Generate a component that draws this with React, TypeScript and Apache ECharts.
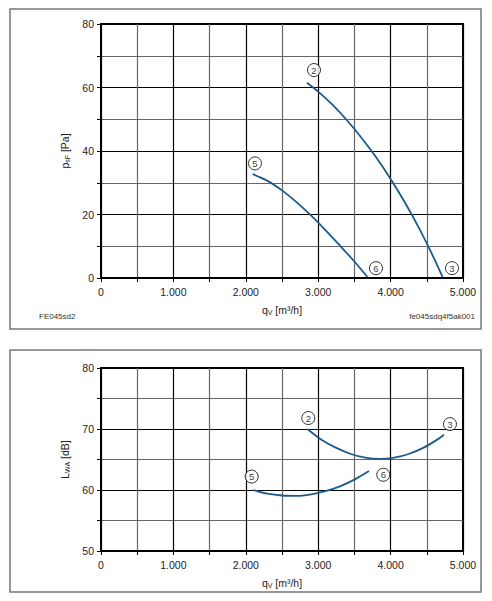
import React, { useEffect, useRef } from "react";
import * as echarts from "echarts";

// Air flow axis (m³/h)
const flowTicks = [0, 1000, 2000, 3000, 4000, 5000];

// Static pressure curves p_sF [Pa] over q_V [m³/h]
const pressureCurveA = [
  [2845, 61.5], [3000, 58.7], [3200, 54.5], [3400, 49.6], [3600, 44.1],
  [3800, 38.0], [4000, 31.2], [4200, 23.7], [4400, 15.4], [4600, 6.2],
  [4718, 0.3],
];
const pressureCurveB = [
  [2095, 32.7], [2300, 30.6], [2500, 27.6], [2700, 23.9], [2900, 19.7],
  [3100, 15.1], [3300, 10.2], [3500, 5.2], [3680, 0.3],
];
// Operating point markers on the pressure chart
const pressureMarkers = [
  { id: "2", q: 2942, v: 65.5 },
  { id: "3", q: 4848, v: 3.1 },
  { id: "5", q: 2127, v: 36.1 },
  { id: "6", q: 3798, v: 3.1 },
];

// Sound power curves L_WA [dB] over q_V [m³/h]
const soundCurveA = [
  [2850, 70], [3050, 68.2], [3250, 66.9], [3450, 65.9], [3650, 65.3],
  [3850, 65.1], [4050, 65.3], [4250, 65.9], [4450, 66.9], [4650, 68.3],
  [4738, 69.05],
];
const soundCurveB = [
  [2104, 60], [2300, 59.4], [2500, 59.1], [2700, 59.05], [2900, 59.3],
  [3100, 59.8], [3300, 60.6], [3500, 61.7], [3702, 63.1],
];
const soundMarkers = [
  { id: "2", q: 2863, v: 71.8 },
  { id: "3", q: 4820, v: 70.8 },
  { id: "5", q: 2081, v: 62.2 },
  { id: "6", q: 3899, v: 62.5 },
];

const FONT = "'Liberation Sans', Arial, sans-serif";
const CURVE = "#1c5b8b";

const fmtFlow = (v: number) =>
  v === 0 ? "0" : flowTicks.includes(v) ? `${v / 1000}.000` : "";

const nameRich = {
  a: { fontSize: 10.5, lineHeight: 13, fontFamily: FONT, color: "#222" },
  s: {
    fontSize: 7,
    lineHeight: 6,
    verticalAlign: "bottom",
    fontFamily: FONT,
    color: "#222",
  },
};

function xAxis(gridIndex: number) {
  return {
    type: "value",
    gridIndex,
    min: 0,
    max: 5000,
    interval: 500,
    name: "{a|q}{s|V}{a| [m³/h]}",
    nameLocation: "middle",
    nameGap: 25,
    nameTextStyle: { rich: nameRich },
    axisLine: { show: true, onZero: false, lineStyle: { color: "#000", width: 2 } },
    axisTick: { show: true, length: 4, lineStyle: { color: "#000", width: 1 } },
    axisLabel: {
      formatter: fmtFlow,
      fontSize: 10.5,
      fontFamily: FONT,
      color: "#222",
      margin: 8,
      showMaxLabel: true,
    },
    splitLine: { show: true, lineStyle: { color: ["#000", "#666"], width: 1.2 } },
  };
}

function yAxis(gridIndex: number, min: number, max: number, step: number, name: string) {
  return {
    type: "value",
    gridIndex,
    min,
    max,
    interval: step,
    name,
    nameLocation: "middle",
    nameRotate: 90,
    nameGap: 27,
    nameTextStyle: { rich: nameRich },
    axisLine: { show: true, onZero: false, lineStyle: { color: "#000", width: 2 } },
    axisTick: { show: true, length: 4, lineStyle: { color: "#000", width: 1 } },
    axisLabel: {
      formatter: (v: number) => ((v - min) % (2 * step) === 0 ? String(v) : ""),
      fontSize: 10.5,
      fontFamily: FONT,
      color: "#222",
      margin: 7,
    },
    splitLine: { show: true, lineStyle: { color: ["#000", "#666"], width: 1.2 } },
  };
}

function curve(data: number[][], idx: number) {
  return {
    type: "line",
    xAxisIndex: idx,
    yAxisIndex: idx,
    data,
    smooth: 0.3,
    showSymbol: false,
    symbol: "none",
    lineStyle: { color: CURVE, width: 1.8 },
    z: 5,
  };
}

function markers(list: { id: string; q: number; v: number }[], idx: number) {
  return {
    type: "scatter",
    xAxisIndex: idx,
    yAxisIndex: idx,
    data: list.map((m) => ({ value: [m.q, m.v], name: m.id })),
    symbol: "circle",
    symbolSize: 13,
    itemStyle: { color: "#fff", borderColor: "#000", borderWidth: 1 },
    label: {
      show: true,
      position: "inside",
      formatter: (p: any) => p.name,
      fontSize: 9.5,
      fontFamily: FONT,
      color: "#000",
    },
    z: 6,
  };
}

export default function App() {
  const ref = useRef<HTMLDivElement>(null);

  useEffect(() => {
    if (!ref.current) return;
    const chart = echarts.init(ref.current, null, { renderer: "svg" });
    chart.setOption({
      animation: false,
      backgroundColor: "#fff",
      grid: [
        { left: 101, top: 24, width: 362, height: 254, show: true, borderColor: "#000", borderWidth: 2, backgroundColor: "transparent" },
        { left: 101, top: 368, width: 362, height: 183, show: true, borderColor: "#000", borderWidth: 2, backgroundColor: "transparent" },
      ],
      xAxis: [xAxis(0), xAxis(1)],
      yAxis: [
        yAxis(0, 0, 80, 10, "{a|p}{s|sF}{a| [Pa]}"),
        yAxis(1, 50, 80, 5, "{a|L}{s|WA}{a| [dB]}"),
      ],
      series: [
        curve(pressureCurveA, 0),
        curve(pressureCurveB, 0),
        markers(pressureMarkers, 0),
        curve(soundCurveA, 1),
        curve(soundCurveB, 1),
        markers(soundMarkers, 1),
      ],
      graphic: [
        {
          type: "rect",
          shape: { x: 10, y: 9, width: 471, height: 320 },
          style: { fill: "none", stroke: "#777", lineWidth: 1.5 },
          z: -1,
        },
        {
          type: "rect",
          shape: { x: 10, y: 350, width: 471, height: 242 },
          style: { fill: "none", stroke: "#777", lineWidth: 1.5 },
          z: -1,
        },
        {
          type: "text",
          x: 39,
          y: 316,
          style: { text: "FE045sd2", fontSize: 8, fontFamily: FONT, fill: "#333", verticalAlign: "middle" },
        },
        {
          type: "text",
          x: 475,
          y: 316,
          style: { text: "fe045sdq4f5ak001", fontSize: 8, fontFamily: FONT, fill: "#333", align: "right", verticalAlign: "middle" },
        },
      ],
    });
    return () => chart.dispose();
  }, []);

  return (
    <div
      ref={ref}
      style={{ position: "absolute", left: 0, top: 0, width: 492, height: 601, background: "#fff" }}
    />
  );
}
